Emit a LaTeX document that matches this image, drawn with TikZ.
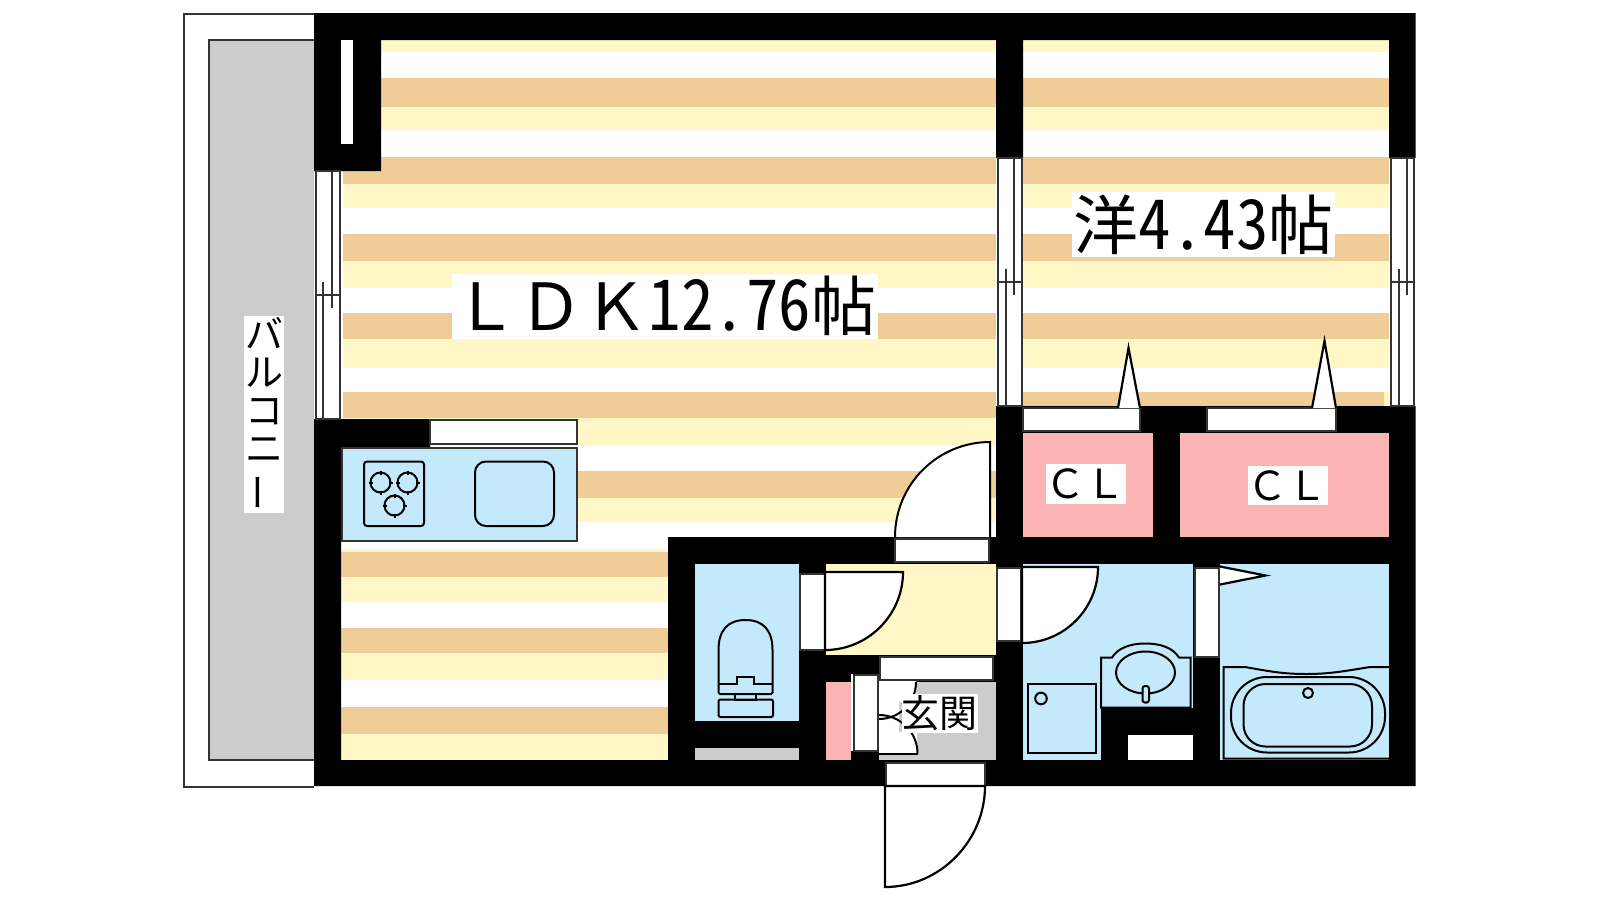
\documentclass[tikz,border=0pt]{standalone}
\usepackage{fontspec}
\newfontfamily\jpfont{Noto Sans CJK JP}
\newfontfamily\jphalf{Noto Sans CJK JP}[RawFeature=+hwid]
\definecolor{stripetan}{HTML}{F0CC96}
\definecolor{stripeyellow}{HTML}{FFF8C6}
\definecolor{wetblue}{HTML}{C3E9FB}
\definecolor{closetpink}{HTML}{FAB4B4}
\definecolor{floorgray}{HTML}{CCCCCC}
\definecolor{framegray}{HTML}{333333}
\begin{document}
\begin{tikzpicture}[x=1pt,y=-1pt]
            \tikzstyle{frame}=[draw=framegray,fill=white,line width=2pt]
            \tikzstyle{fixture}=[draw=black,line width=2pt]
            \tikzstyle{leaf}=[draw=black,fill=white,line width=2.2pt]
            \tikzstyle{tag}=[fill=white,inner sep=0pt,text=black,anchor=center]
                \useasboundingbox (0,0) rectangle (1600,900);
                \fill[white] (0,0) rectangle (1600,900);

                \draw[framegray,line width=2pt] (314,13.5) -- (183.5,13.5) -- (183.5,786.5) -- (314,786.5);
                \fill[floorgray] (209,39.5) rectangle (314,760);
                \draw[framegray,line width=2pt] (314,39.5) -- (209,39.5) -- (209,760) -- (314,760);

                \foreach \ya/\yb/\yc in {78/107/130, 157/184/208, 234/261/288, 313/339/368, 392/418/446, 471/498/522}{
                    \fill[stripetan] (343,\ya) rectangle (996,\yb);
                    \fill[stripeyellow] (343,\yb) rectangle (996,\yc);
                }
                \foreach \ya/\yb/\yc in {78/107/130, 157/184/208, 234/261/288, 313/339/368, 392/418/446}{
                    \fill[stripetan] (1023,\ya) rectangle (1389,\yb);
                    \fill[stripeyellow] (1023,\yb) rectangle (1389,\yc);
                }
                \fill[stripeyellow] (343,40) rectangle (996,52);
                \fill[stripeyellow] (1023,40) rectangle (1389,52);
                \fill[stripeyellow] (1384,392) rectangle (1389,406);
                \fill[stripeyellow] (341,549) rectangle (668,552);
                \foreach \ya/\yb/\yc in {552/577/602, 628/653/680, 707/734/760}{
                    \fill[stripetan] (341,\ya) rectangle (668,\yb);
                    \fill[stripeyellow] (341,\yb) rectangle (668,\yc);
                }

                \fill[black] (314,13) rectangle (1415.5,40)
                    (314,13) rectangle (381,171)
                    (314,419) rectangle (341,786)
                    (314,419) rectangle (430,448)
                    (314,760) rectangle (1415.5,786)
                    (996,13) rectangle (1023,158)
                    (1389,13) rectangle (1415.5,158)
                    (996,406) rectangle (1415.5,786)
                    (668,537) rectangle (996,760);
                \fill[white] (341,40) rectangle (353,144);

                \foreach \a/\b/\c/\d/\t/\m/\e in {316/323/332/340/171/294.5/419, 997.5/1005.5/1013.5/1021.5/158/282/406, 1391/1398.5/1406.5/1414/158/282/406}{
                    \draw[frame] (\a,\t) rectangle (\d,\e);
                    \draw[framegray,line width=2pt] (\a,\m) -- (\d,\m);
                    \draw[framegray,line width=2pt] (\b,\m-13) -- (\b,\e);
                    \draw[framegray,line width=2pt] (\c,\t) -- (\c,\m+13);
                }

                \draw[frame] (430,420) rectangle (576.5,444);
                \draw[frame,fill=wetblue] (341.5,448) rectangle (576.5,540.5);
                \draw[fixture,rounded corners=3pt] (364,461.5) rectangle (424,526);
                \draw[fixture,rounded corners=11pt] (475,461.5) rectangle (554,526);
                \foreach \cx/\cy in {380.5/482.5, 407.5/482.5, 394.5/505.5}{
                    \draw[fixture] (\cx,\cy) circle[radius=10];
                    \draw[fixture] (\cx-12,\cy) -- (\cx-8,\cy) (\cx+8,\cy) -- (\cx+12,\cy)
                        (\cx,\cy-12) -- (\cx,\cy-8) (\cx,\cy+8) -- (\cx,\cy+12);
                }

                \fill[closetpink] (1023,433) rectangle (1153,537);
                \fill[closetpink] (1180,433) rectangle (1389,537);
                \foreach \a/\b in {1023/1140, 1207/1336}
                    \draw[frame] (\a,408) rectangle (\b,431);
                \draw[leaf] (1118,408) -- (1128.5,348) -- (1140,408);
                \draw[leaf] (1312,408) -- (1324.5,341) -- (1336,408);

                \draw[frame] (895,539) rectangle (989,562);
                \draw[leaf,line width=2pt] (990,537) -- (990,442) .. controls (938,442) and (895,484) .. (895,537);

                \fill[wetblue] (695,564) rectangle (799,721);
                \fill[floorgray] (695,748) rectangle (799,760);
                \draw[fixture] (718.5,683.5) -- (718.5,650) .. controls (718.5,630) and (728,620) .. (745.5,620) .. controls (763,620) and (772.5,630) .. (772.5,650) -- (772.5,683.5);
                \draw[fixture,rounded corners=1.5pt] (718.5,683.5) -- (718.5,694) -- (772.5,694) -- (772.5,683.5);
                \draw[fixture] (718.5,683.5) -- (736.5,683.5) -- (736.5,677) -- (753.5,677) -- (753.5,683.5) -- (772.5,683.5);
                \draw[fixture] (735,693.5) rectangle (756,700);
                \draw[fixture,rounded corners=2pt] (718.5,699.5) rectangle (773,717);

                \fill[stripeyellow] (826,564) rectangle (996,655);
                \draw[frame] (800,573.5) rectangle (825,649.5);
                \draw[leaf] (825,572) -- (903,572) .. controls (903,615) and (868,650) .. (825,650) -- cycle;

                \fill[white] (851,674) rectangle (853,751);
                \fill[closetpink] (826,682) rectangle (851,760);
                \draw[frame] (854,674.5) rectangle (877.5,750.5);
                \draw[frame] (879.5,657) rectangle (992.5,680);
                \fill[floorgray] (879,682) rectangle (996,760);
                \fill[white] (879,681) rectangle (916,702) (879,702) rectangle (899,732) (879,732) rectangle (917,753.5);
                \draw[fixture] (916,682) .. controls (916,702) and (900,719) .. (879,719);
                \draw[fixture] (917.5,753.5) -- (879,753.5);
                \draw[fixture] (917.5,753.5) .. controls (917.5,732) and (900,715) .. (879,715);

                \fill[wetblue] (1023,564) rectangle (1193,707.5);
                \fill[wetblue] (1023,707) rectangle (1101,760);
                \fill[white] (1128,735) rectangle (1193,760);
                \draw[frame] (997,567.5) rectangle (1021,641);
                \draw[leaf] (1022,567) -- (1098,567) .. controls (1098,609) and (1064,643) .. (1022,643) -- cycle;
                \draw[fixture] (1027.5,684) rectangle (1096,752.5);
                \draw[fixture] (1041,698.5) circle[radius=5.8];
                \draw[fixture] (1101,707.5) -- (1101,657.5) -- (1112,657.5) .. controls (1118,648) and (1130,643.5) .. (1145.5,643.5) .. controls (1161,643.5) and (1173,648) .. (1179,657.5) -- (1190.5,657.5) -- (1190.5,707.5) -- cycle;
                \draw[fixture] (1145.5,672.5) ellipse[x radius=29.5,y radius=21];
                \draw[fixture,fill=wetblue,rounded corners=2.5pt] (1142.5,702.5) -- (1142.5,686) -- (1149,686) -- (1149,702.5) -- cycle;

                \fill[wetblue] (1220,564) rectangle (1389,760);
                \draw[frame] (1195,567.5) rectangle (1219,656.5);
                \draw[leaf] (1220,566.5) -- (1265.5,575.5) -- (1220,584.5);
                \draw[fixture] (1389,667) -- (1370,667) .. controls (1345,671) and (1330,674) .. (1306,674) .. controls (1282,674) and (1268,671) .. (1245,667) -- (1223.5,667) -- (1223.5,758.5) -- (1389,758.5);
                \draw[fixture,rounded corners=36pt] (1231,677) rectangle (1385,752.5);
                \draw[fixture,rounded corners=22pt] (1243.5,684) rectangle (1372,746.5);
                \draw[fixture] (1308,693) circle[radius=5];

                \draw[frame] (885.5,762.5) rectangle (984.5,786);
                \draw[leaf] (885,786) -- (985,786) .. controls (985,841) and (940,887) .. (885,887) -- cycle;

                \node[tag,minimum width=426pt,minimum height=65pt] (ldk-label) at (665,306)
                    {\fontsize{65}{65}\selectfont\jpfont\raisebox{-4pt}{ＬＤＫ{\jphalf\scalebox{1}[1.08]{12.76}}帖}};
                \node[tag,minimum width=263pt,minimum height=64.5pt] (room-label) at (1203.5,224.5)
                    {\fontsize{65}{65}\selectfont\jpfont\raisebox{-2pt}{洋{\jphalf\scalebox{1}[1.06]{4.43}}帖}};
                \node[tag,minimum width=79pt,minimum height=40pt] (cl-left) at (1085.5,484)
                    {\fontsize{40}{40}\selectfont\jpfont ＣＬ};
                \node[tag,minimum width=79pt,minimum height=39pt] (cl-right) at (1287.5,485.5)
                    {\fontsize{40}{40}\selectfont\jpfont ＣＬ};
                \node[tag,minimum width=75pt,minimum height=39pt] (entry-label) at (939.5,713.5)
                    {\fontsize{38}{38}\selectfont\jpfont 玄関};
                \node[tag,minimum width=40pt,minimum height=197pt,align=center,font=\fontsize{38}{38}\selectfont\jpfont] (balcony-label) at (264,414.5)
                    {バ\\ル\\コ\\ニ\\\rotatebox[origin=c]{90}{ー}};
        \end{tikzpicture}
\end{document}
